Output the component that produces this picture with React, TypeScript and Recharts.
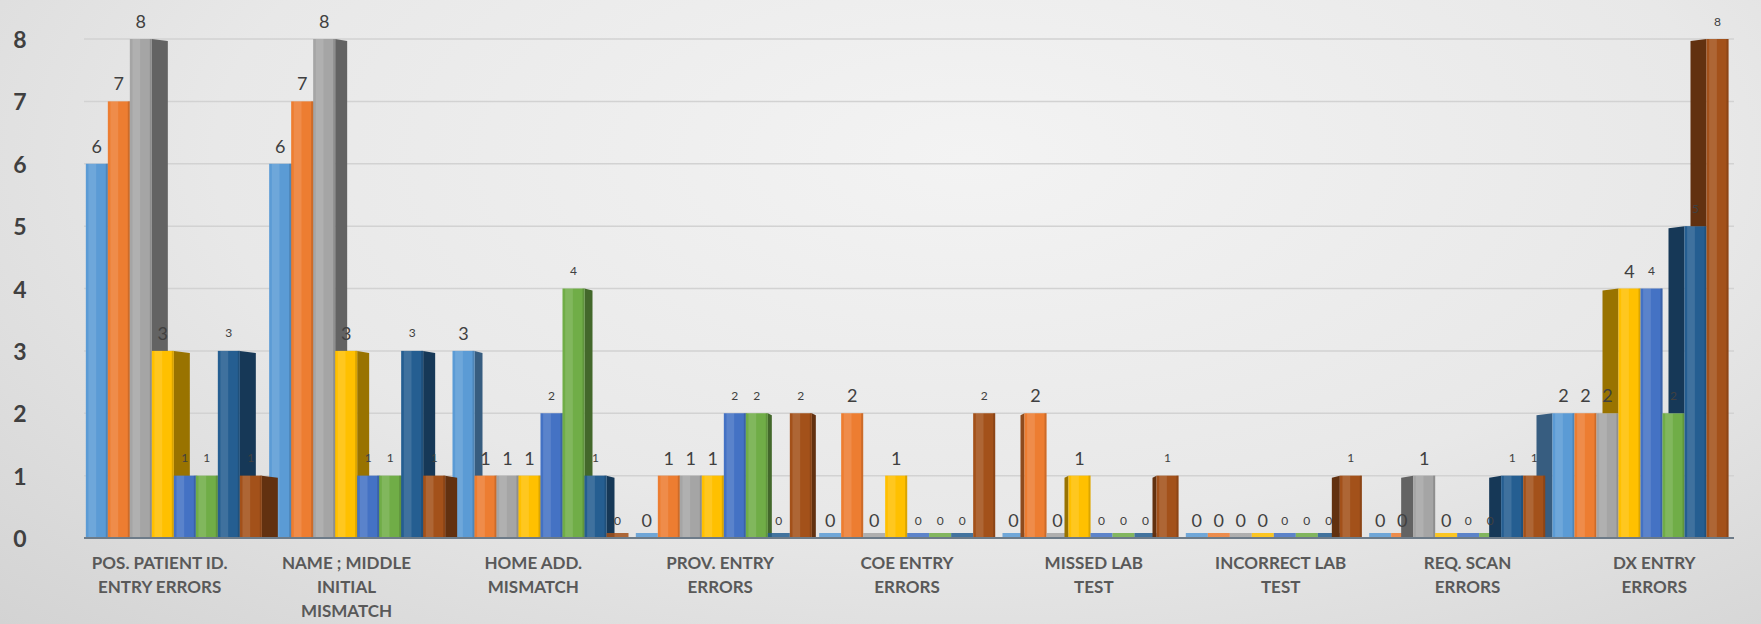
import React from "react";
import { BarChart, Bar, XAxis, YAxis, CartesianGrid, LabelList } from "recharts";

// error categories along the x axis
const categories = [
  "POS. PATIENT ID.\nENTRY ERRORS",
  "NAME ; MIDDLE\nINITIAL\nMISMATCH",
  "HOME ADD.\nMISMATCH",
  "PROV. ENTRY\nERRORS",
  "COE ENTRY\nERRORS",
  "MISSED LAB\nTEST",
  "INCORRECT LAB\nTEST",
  "REQ. SCAN\nERRORS",
  "DX ENTRY\nERRORS",
];

// counts per series, one value per category
const set1 = [6, 6, 3, 0, 0, 0, 0, 0, 2];
const set2 = [7, 7, 1, 1, 2, 2, 0, 0, 2];
const set3 = [8, 8, 1, 1, 0, 0, 0, 1, 2];
const set4 = [3, 3, 1, 1, 1, 1, 0, 0, 4];
const set5 = [1, 1, 2, 2, 0, 0, 0, 0, 4];
const set6 = [1, 1, 4, 2, 0, 0, 0, 0, 2];
const set7 = [3, 3, 1, 0, 0, 0, 0, 1, 5];
const set8 = [1, 1, 0, 2, 2, 1, 1, 1, 8];

const yTicks = [0, 1, 2, 3, 4, 5, 6, 7, 8];

const seriesKeys = ["set1", "set2", "set3", "set4", "set5", "set6", "set7", "set8"];
const seriesValues = [set1, set2, set3, set4, set5, set6, set7, set8];
const seriesColors = ["#5B9BD5", "#ED7D31", "#A5A5A5", "#FFC000", "#4472C4", "#70AD47", "#255E91", "#A3511A"];

const data = categories.map((category, i) => {
  const row: any = { category };
  seriesKeys.forEach((k, s) => (row[k] = seriesValues[s][i]));
  return row;
});

const shade = (hex: string, f: number) => {
  const n = parseInt(hex.slice(1), 16);
  const c = (v: number) => Math.max(0, Math.min(255, Math.round(v * f)));
  return `rgb(${c((n >> 16) & 255)},${c((n >> 8) & 255)},${c(n & 255)})`;
};

// fake perspective: categories left of the middle show a right side face,
// categories right of it show a left side face
const mid = (categories.length - 1) / 2;
const depthOf = (i: number) => Math.abs(i - mid) * 4;

const makeShape = (s: number) => (props: any) => {
  const { x, y, width, height, index, payload } = props;
  const color = seriesColors[s];
  const side = shade(color, 0.6);
  const base = y + height;
  const v = payload[seriesKeys[s]];
  const dir = index < mid ? 1 : index > mid ? -1 : 0;
  const d = depthOf(index);

  if (!v) {
    // empty bar: just its footprint on the floor
    return <rect x={x} y={base - 5} width={width} height={5} fill={color} opacity={0.85} />;
  }

  let sideFace = null;
  if (dir === 1) {
    const pts = `${x + width},${y} ${x + width + d},${y + 2} ${x + width + d},${base} ${x + width},${base}`;
    sideFace = <polygon points={pts} fill={side} />;
  } else if (dir === -1) {
    // the bar on the left hides the lower part of this face
    const pv = s > 0 ? payload[seriesKeys[s - 1]] : 0;
    const prevTop = base - (pv * height) / v;
    if (prevTop > y + 1) {
      const pts = `${x},${y} ${x - d},${y + 2} ${x - d},${prevTop} ${x},${prevTop}`;
      sideFace = <polygon points={pts} fill={side} />;
    }
  }

  return (
    <g>
      {sideFace}
      <rect x={x} y={y} width={width} height={height} fill={color} />
      <rect x={x + width * 0.12} y={y} width={width * 0.35} height={height} fill="#ffffff" opacity={0.12} />
      <rect x={x + width - 2} y={y} width={2} height={height} fill={side} opacity={0.35} />
    </g>
  );
};

const makeLabel = (s: number) => (props: any) => {
  const vb = props.viewBox || props;
  const { x, y, width } = vb;
  return (
    <text
      x={x + width / 2}
      y={y - 18}
      textAnchor="middle"
      dominantBaseline="central"
      fontFamily="Lato, sans-serif"
      fontSize={s < 4 ? 18 : 12}
      fill="#404040"
    >
      {props.value}
    </text>
  );
};

const CategoryTick = (props: any) => {
  const { x, y, payload, index } = props;
  const lines = String(payload.value).split("\n");
  const shift = (index - mid) * 3.5 - 2;
  return (
    <text
      x={x + shift}
      y={y}
      textAnchor="middle"
      fontFamily="Lato, sans-serif"
      fontWeight={700}
      fontSize={17}
      fill="#595959"
    >
      {lines.map((line, i) => (
        <tspan key={i} x={x + shift} dy={i === 0 ? 31 : 24}>
          {line}
        </tspan>
      ))}
    </text>
  );
};

const ValueTick = (props: any) => {
  const { y, payload } = props;
  return (
    <text x={20} y={y} textAnchor="middle" dominantBaseline="central" fontFamily="Lato, sans-serif" fontWeight={700} fontSize={23} fill="#404040">
      {payload.value}
    </text>
  );
};

export default function App() {
  return (
    <div
      style={{
        position: "absolute",
        left: 0,
        top: 0,
        width: 1761,
        height: 624,
        background: "radial-gradient(ellipse at 55% 25%, #f3f3f3 0%, #e8e8e8 55%, #d3d3d3 100%)",
      }}
    >
      <BarChart
        width={1761}
        height={624}
        data={data}
        margin={{ top: 39, right: 27, bottom: 0, left: 0 }}
        barCategoryGap="1%"
        barGap={0}
      >
        <CartesianGrid vertical={false} stroke="#d2d2d2" strokeWidth={1.5} />
        <XAxis
          dataKey="category"
          height={86}
          interval={0}
          tickLine={false}
          tickSize={0}
          tickMargin={0}
          axisLine={{ stroke: "#6d7b88", strokeWidth: 2 }}
          tick={<CategoryTick />}
        />
        <YAxis
          domain={[0, 8]}
          ticks={yTicks}
          width={84}
          axisLine={false}
          tickLine={false}
          tick={<ValueTick />}
        />
        {seriesKeys.map((k, s) => (
          <Bar key={k} dataKey={k} shape={makeShape(s)} isAnimationActive={false}>
            <LabelList dataKey={k} content={makeLabel(s)} />
          </Bar>
        ))}
      </BarChart>
    </div>
  );
}
